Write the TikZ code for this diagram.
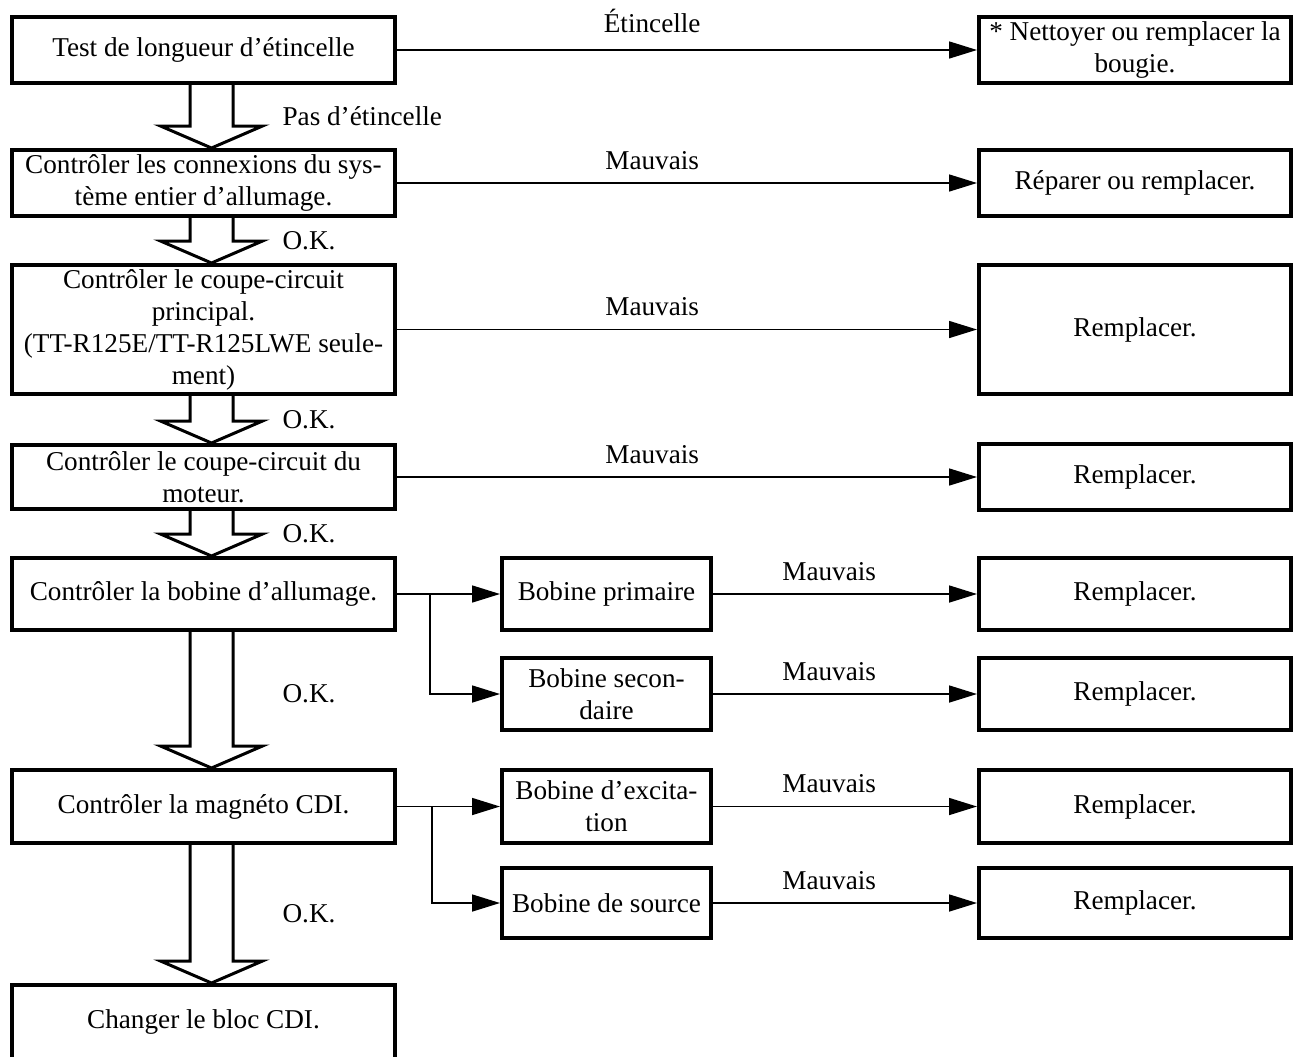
\documentclass[tikz,border=0pt]{standalone}
\usepackage{fontspec}
\setmainfont{Liberation Serif}
\usetikzlibrary{positioning, arrows.meta, calc}

% big hollow arrow between two boxes of the main column
\newcommand{\hollowarrow}[2]{%
  \draw[hollow] ($(#1.south)+(-13.5,0)$) -- ($(#2.north)+(-13.5,-22)$)
    -- ($(#2.north)+(-43,-22)$) -- ($(#2.north)+(8,0)$) -- ($(#2.north)+(59,-22)$)
    -- ($(#2.north)+(29.5,-22)$) -- ($(#1.south)+(29.5,0)$);}

\begin{document}
\begin{tikzpicture}[
        x=0.5pt, y=-0.5pt,
        font=\fontsize{13.6}{16}\selectfont,
        box/.style={draw, line width=2pt, align=center, inner sep=2pt},
        mainbox/.style={box, minimum width=191.5pt},
        midbox/.style={box, minimum width=104.5pt},
        fixbox/.style={box, minimum width=156pt},
        link/.style={-{Triangle[length=14pt, width=8.5pt]}, line width=0.8pt},
        hollow/.style={line width=1.5pt, line join=miter},
        lbl/.style={above=3pt, pos=0.44},
        oklbl/.style={anchor=west, xshift=36pt}
    ]
        \useasboundingbox (0,0) rectangle (1297,1056);
        \clip (0,0) rectangle (1297,1056);

        % Main column
        \node[mainbox, minimum height=33pt] (A) at (203.5,50) {Test de longueur d’étincelle};
        \node[mainbox, minimum height=33pt] (B) at (203.5,183) {Contrôler les connexions du sys-\\tème entier d’allumage.};
        \node[mainbox, minimum height=64.5pt] (C) at (203.5,329.5) {Contrôler le coupe-circuit\\principal.\\(TT-R125E/TT-R125LWE seule-\\ment)};
        \node[mainbox, minimum height=32pt] (D) at (203.5,477) {Contrôler le coupe-circuit du\\moteur.};
        \node[mainbox, minimum height=36pt] (E) at (203.5,594) {Contrôler la bobine d’allumage.};
        \node[mainbox, minimum height=36.5pt] (F) at (203.5,806.5) {Contrôler la magnéto CDI.};
        \node[mainbox, minimum height=37pt] (G) at (203.5,1022) {Changer le bloc CDI.};

        % Coils
        \node[midbox, minimum height=36pt] (P1) at (606.5,594) {Bobine primaire};
        \node[midbox, minimum height=36pt] (P2) at (606.5,694) {Bobine secon-\\daire};
        \node[midbox, minimum height=36.5pt] (Q1) at (606.5,806.5) {Bobine d’excita-\\tion};
        \node[midbox, minimum height=35pt] (Q2) at (606.5,903) {Bobine de source};

        % Remedies
        \node[fixbox, minimum height=33pt] (R1) at (1135,50) {* Nettoyer ou remplacer la\\bougie.};
        \node[fixbox, minimum height=33pt] (R2) at (1135,183) {Réparer ou remplacer.};
        \node[fixbox, minimum height=64.5pt] (R3) at (1135,329.5) {Remplacer.};
        \node[fixbox, minimum height=33pt] (R4) at (1135,477) {Remplacer.};
        \node[fixbox, minimum height=36pt] (R5) at (1135,594) {Remplacer.};
        \node[fixbox, minimum height=36pt] (R6) at (1135,694) {Remplacer.};
        \node[fixbox, minimum height=36.5pt] (R7) at (1135,806.5) {Remplacer.};
        \node[fixbox, minimum height=35pt] (R8) at (1135,903) {Remplacer.};

        % Down the main column
        \hollowarrow{A}{B}
        \hollowarrow{B}{C}
        \hollowarrow{C}{D}
        \hollowarrow{D}{E}
        \hollowarrow{E}{F}
        \hollowarrow{F}{G}
        \node[oklbl] at ($(A.south)!0.5!(B.north)$) {Pas d’étincelle};
        \node[oklbl] at ($(B.south)!0.5!(C.north)$) {O.K.};
        \node[oklbl] at ($(C.south)!0.5!(D.north)$) {O.K.};
        \node[oklbl] at ($(D.south)!0.5!(E.north)$) {O.K.};
        \node[oklbl] at ($(E.south)!0.45!(F.north)$) {O.K.};
        \node[oklbl] at ($(F.south)!0.5!(G.north)$) {O.K.};

        % Faults
        \draw[link] (A) -- node[lbl, above=5pt] {Étincelle} (R1);
        \draw[link] (B) -- node[lbl] {Mauvais} (R2);
        \draw[link] (C) -- node[lbl] {Mauvais} (R3);
        \draw[link] (D) -- node[lbl] {Mauvais} (R4);
        \draw[link] (P1) -- node[lbl] {Mauvais} (R5);
        \draw[link] (P2) -- node[lbl] {Mauvais} (R6);
        \draw[link] (Q1) -- node[lbl] {Mauvais} (R7);
        \draw[link] (Q2) -- node[lbl] {Mauvais} (R8);

        % Coil branches
        \coordinate (br1) at (430,594);
        \coordinate (br2) at (432,806.5);
        \draw[link] (E) -- (P1);
        \draw[link] (br1) |- (P2);
        \draw[link] (F) -- (Q1);
        \draw[link] (br2) |- (Q2);
    \end{tikzpicture}
\end{document}
